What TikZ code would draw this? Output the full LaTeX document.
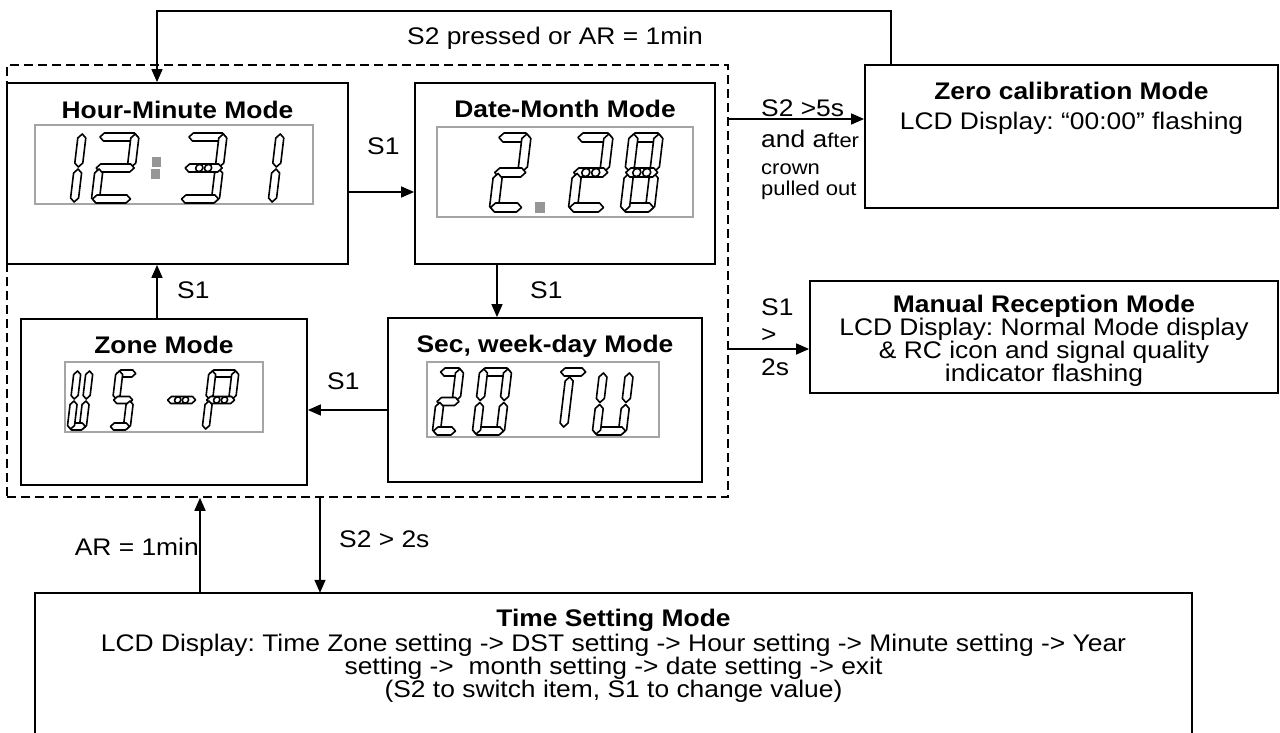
\documentclass[tikz,border=0pt]{standalone}
\usepackage{fontspec}
\setmainfont{Liberation Sans}[FakeStretch=1.1]
\usetikzlibrary{arrows.meta,calc,fit}
\definecolor{lcdgray}{RGB}{165,165,165}
\definecolor{colongray}{RGB}{150,150,150}
% seven-segment helpers (local units: 1pt, y up)
\newcommand\segH[1]{\draw[seg] ({\dG},{#1}) -- ({\dG+\dT/2},{#1+\dT/2}) -- ({\dW-\dG-\dT/2},{#1+\dT/2}) -- ({\dW-\dG},{#1}) -- ({\dW-\dG-\dT/2},{#1-\dT/2}) -- ({\dG+\dT/2},{#1-\dT/2}) -- cycle;}
\newcommand\segV[3]{\draw[seg] ({#1},{#2+\dG}) -- ({#1+\dT/2},{#2+\dG+\dT/2}) -- ({#1+\dT/2},{#3-\dG-\dT/2}) -- ({#1},{#3-\dG}) -- ({#1-\dT/2},{#3-\dG-\dT/2}) -- ({#1-\dT/2},{#2+\dG+\dT/2}) -- cycle;}
\newcommand\sgA{\segH{\dH-\dT/2}}
\newcommand\sgD{\segH{\dT/2}}
\newcommand\sgG{\segH{\dH/2}}
\newcommand\sgGc{\segH{\dH/2}\draw[seg] ({\dW/2-\dT*0.55},{\dH/2}) circle[radius={\dT*0.45}];\draw[seg] ({\dW/2+\dT*0.55},{\dH/2}) circle[radius={\dT*0.45}];}
\newcommand\sgF{\segV{\dT/2}{\dH/2}{\dH}}
\newcommand\sgE{\segV{\dT/2}{0}{\dH/2}}
\newcommand\sgB{\segV{\dW-\dT/2}{\dH/2}{\dH}}
\newcommand\sgC{\segV{\dW-\dT/2}{0}{\dH/2}}
\newcommand\lcdchar[5]{\begin{scope}[shift={(#1,#2)},x=1pt,y=1pt,xslant=0.12]\def\dW{#3}\def\dH{#4}#5\end{scope}}
\frenchspacing
\begin{document}
\begin{tikzpicture}[x=1pt,y=-1pt,
  every node/.style={inner sep=0pt, font=\fontsize{24pt}{23pt}\selectfont},
  box/.style={draw, line width=1.8pt, inner sep=0pt},
  grp/.style={draw, line width=1.5pt, dash pattern=on 9pt off 5pt, inner sep=0pt},
  arr/.style={line width=1.5pt, -{Triangle[length=13pt,width=11pt]}},
  ttl/.style={font=\bfseries\fontsize{24pt}{23pt}\selectfont, anchor=base},
  lbl/.style={anchor=base west},
  small/.style={anchor=base west, font=\fontsize{20pt}{22pt}\selectfont},
  seg/.style={draw=black, fill=white, line width=1.6pt, line join=round},
  lcdframe/.style={draw=lcdgray, line width=1.5pt},
]
\useasboundingbox (0,0) rectangle (1280,733);
\def\dG{1}
% boxes
\node[grp, fit={(7,65)(728,497)}] (grp) {};
\node[box, fit={(7,83)(348,264)}] (hm) {};
\node[box, fit={(415,83)(715,264)}] (dm) {};
\node[box, fit={(21,319)(307,485)}] (zn) {};
\node[box, fit={(388,318)(702,482)}] (sc) {};
\node[box, fit={(865,65)(1278,208)}] (zc) {};
\node[box, fit={(810,281)(1278,393)}] (mr) {};
\node[inner sep=0pt, fit={(35,593)(1192,745)}] (ts) {};
\draw[line width=1.8pt] (ts.south west) -- (ts.north west) -- (ts.north east) -- (ts.south east);
% titles
\node[ttl] (hmt) at ([yshift=-36pt]hm.north) {Hour-Minute Mode};
\node[ttl] (dmt) at ([yshift=-35pt]dm.north) {Date-Month Mode};
\node[ttl] (znt) at ([yshift=-35pt]zn.north) {Zone Mode};
\node[ttl] (sct) at ([yshift=-35pt]sc.north) {Sec, week-day Mode};
\node[anchor=north, align=center] (zct) at ([yshift=-17.8pt]zc.north)
  {\textbf{Zero calibration Mode}\\[7pt]LCD Display: “00:00” flashing};
\node[anchor=north, align=center] (mrt) at ([yshift=-14.8pt]mr.north)
  {\textbf{Manual Reception Mode}\\LCD Display: Normal Mode display\\\& RC icon and signal quality\\indicator flashing};
\node[anchor=north, align=center] (tst) at ([yshift=-15.8pt]ts.north)
  {\textbf{Time Setting Mode}\\[2pt]LCD Display: Time Zone setting -> DST setting -> Hour setting -> Minute setting -> Year\\setting -> \ month setting -> date setting -> exit\\(S2 to switch item, S1 to change value)};
% LCD: Hour-Minute
\draw[lcdframe] (35,125) rectangle (313,204);
\def\dT{8}
\lcdchar{70}{203}{20}{70}{\sgE\sgF}
\lcdchar{91}{203}{40}{70}{\sgA\sgB\sgG\sgE\sgD}
\fill[colongray] (152,157) rectangle (161,167);
\fill[colongray] (151,169) rectangle (160,179);
\lcdchar{180}{203}{39}{70}{\sgA\sgB\sgC\sgD\sgGc}
\lcdchar{268}{203}{20}{70}{\sgE\sgF}
% LCD: Date-Month
\draw[lcdframe] (437,127) rectangle (693,217);
\def\dT{9}
\lcdchar{489}{212}{33}{79}{\sgA\sgB\sgG\sgE\sgD}
\fill[colongray] (535,202) rectangle (545,213);
\lcdchar{568}{212}{36}{79}{\sgA\sgB\sgGc\sgE\sgD}
\lcdchar{620}{212}{34}{79}{\sgA\sgB\sgC\sgD\sgE\sgF\sgGc}
% LCD: Zone
\draw[lcdframe] (65,362) rectangle (263,432);
\def\dT{7}
\lcdchar{67}{430}{19}{60}{\sgB\sgC\sgD\sgE\sgF}
\lcdchar{109}{430}{21}{60}{\sgA\sgF\sgG\sgC\sgD}
\lcdchar{163}{430}{30}{60}{\sgGc}
\lcdchar{202}{430}{30}{60}{\sgA\sgB\sgF\sgGc\sgE}
% LCD: Sec, week-day
\draw[lcdframe] (427,362) rectangle (659,437);
\def\dT{8}
\lcdchar{432}{435}{24}{67}{\sgA\sgB\sgG\sgE\sgD}
\lcdchar{472}{435}{32}{67}{\sgA\sgB\sgC\sgD\sgE\sgF}
\lcdchar{553}{428}{27}{60}{\sgA\segV{\dW/2-3}{0}{\dH-\dT}}
\lcdchar{592}{435}{34}{63}{\sgB\sgC\sgD\sgE\sgF}
% connectors
\coordinate (loop) at (0,11);
\draw[arr] ([xshift=27pt]zc.north west) -- ([xshift=27pt]zc.north west |- loop) -| ([xshift=-20.5pt]hm.north);
\draw[arr] ([yshift=-18.5pt]hm.east) -- ([yshift=-18.5pt]hm.east -| dm.west);
\draw[arr] ([xshift=-68pt]dm.south) -- ([xshift=-68pt]dm.south |- sc.north);
\draw[arr] ([yshift=-10pt]sc.west) -- ([yshift=-10pt]sc.west -| zn.east);
\draw[arr] ([xshift=-7pt]zn.north) -- ([xshift=-7pt]zn.north |- hm.south);
\draw[arr] ([yshift=17.5pt]zc.west -| grp.east) -- ([yshift=17.5pt]zc.west);
\draw[arr] ([yshift=-12pt]mr.west -| grp.east) -- ([yshift=-12pt]mr.west);
\draw[arr] ([xshift=-413.5pt]ts.north) -- ([xshift=-413.5pt]ts.north |- grp.south);
\draw[arr] ([xshift=-293.5pt]ts.north |- grp.south) -- ([xshift=-293.5pt]ts.north);
% labels
\node[lbl] (l0) at (407,45) {S2 pressed or AR = 1min};
\node[lbl] (l1) at (367,155) {S1};
\node[lbl] (l2) at (530,298) {S1};
\node[lbl] (l3) at (177,298) {S1};
\node[lbl] (l4) at (327,389) {S1};
\node[lbl] (l5) at (761,117) {S2 >5s};
\node[lbl] (l6) at (761,148) {and a{\fontsize{20pt}{22pt}\selectfont fter}};
\node[small] (l7) at (761,175) {crown};
\node[small] (l8) at (761,196) {pulled out};
\node[lbl] (l9) at (761,315) {S1};
\node[lbl] (l10) at (761,342) {>};
\node[lbl] (l11) at (761,375) {2s};
\node[anchor=base east] (l12) at (199,555) {AR = 1min};
\node[lbl] (l13) at (339,547) {S2 > 2s};
\end{tikzpicture}
\end{document}
